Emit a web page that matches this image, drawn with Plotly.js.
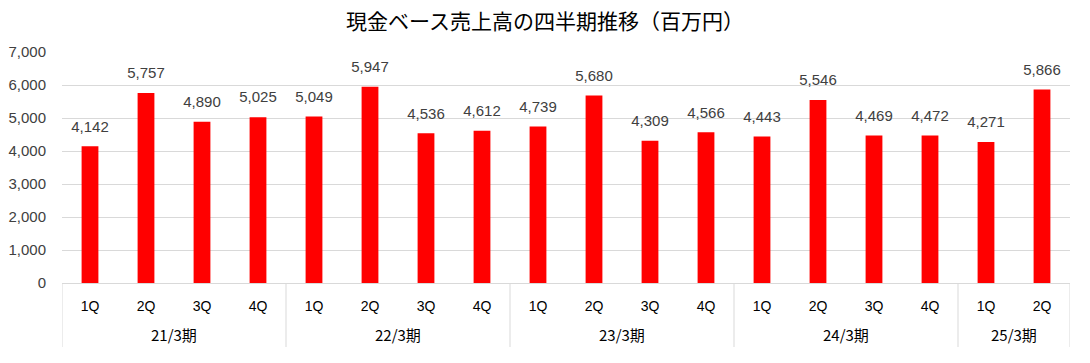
<!DOCTYPE html>
<html><head><meta charset="utf-8">
<script src="https://cdn.plot.ly/plotly-3.0.1.min.js"></script>
<style>html,body{margin:0;padding:0;background:#fff}#chart{width:1090px;height:363px}</style>
</head><body><div id="chart"></div>
<script>
const years = ["21/3期","21/3期","21/3期","21/3期","22/3期","22/3期","22/3期","22/3期","23/3期","23/3期","23/3期","23/3期","24/3期","24/3期","24/3期","24/3期","25/3期","25/3期"];
const quarters = ["1Q","2Q","3Q","4Q","1Q","2Q","3Q","4Q","1Q","2Q","3Q","4Q","1Q","2Q","3Q","4Q","1Q","2Q"];
const sales = [4142,5757,4890,5025,5049,5947,4536,4612,4739,5680,4309,4566,4443,5546,4469,4472,4271,5866];
const yTicks = [0,1000,2000,3000,4000,5000,6000,7000];

const FONT = "'Liberation Sans', Arial, 'Noto Sans CJK JP', sans-serif";
const idx = sales.map((_, i) => i);

// group boundaries derived from the years array
const groups = [];
years.forEach((y, i) => {
  if (!groups.length || groups[groups.length-1].name !== y) groups.push({name:y, start:i, end:i});
  else groups[groups.length-1].end = i;
});
const shapes = [];
const annotations = [];
groups.forEach((g, k) => {
  if (k === 0) shapes.push({type:"line", xref:"x", yref:"paper", x0:g.start-0.5, x1:g.start-0.5, y0:0, y1:-0.277, line:{color:"#d9d9d9", width:1}});
  shapes.push({type:"line", xref:"x", yref:"paper", x0:g.end+0.5, x1:g.end+0.5, y0:0, y1:-0.277, line:{color:"#d9d9d9", width:1}});
  annotations.push({xref:"x", yref:"paper", x:(g.start+g.end)/2, y:-0.225, yanchor:"middle", showarrow:false,
    text:g.name, font:{family:"'Noto Sans CJK JP', sans-serif", size:15, color:"#000"}});
});

const traces = [
  {type:"bar", x:idx, y:sales, marker:{color:"#ff0000"}, hoverinfo:"y"},
  {type:"scatter", mode:"markers+text", x:idx, y:sales,
   text:sales.map(v=>v.toLocaleString("en-US")), textposition:"top center",
   marker:{size:16, opacity:0}, cliponaxis:false,
   textfont:{family:FONT, size:15, color:"#404040"}, hoverinfo:"skip", showlegend:false}
];
const layout = {
  width:1090, height:363,
  margin:{l:62, r:20, t:52, b:80},
  paper_bgcolor:"#fff", plot_bgcolor:"#fff",
  showlegend:false,
  bargap:0.7,
  title:{text:"現金ベース売上高の四半期推移（百万円）", x:0.5, xanchor:"center", y:0.94, yanchor:"middle",
         font:{family:"'Noto Sans CJK JP', sans-serif", size:21, color:"#000"}},
  font:{family:FONT, size:13, color:"#404040"},
  xaxis:{range:[-0.5, sales.length-0.5], tickvals:idx, ticktext:quarters,
         showline:true, linecolor:"#d9d9d9", linewidth:1, ticks:"", showgrid:false, zeroline:false,
         ticklabelstandoff:10,
         tickfont:{family:"'Liberation Sans', 'Noto Sans CJK JP', sans-serif", size:14, color:"#000"}},
  yaxis:{range:[0,7000], tickvals:yTicks, ticktext:yTicks.map(v=>v.toLocaleString("en-US")),
         showgrid:true, gridcolor:"#d9d9d9", zeroline:false, showline:false, ticks:"",
         ticklabelstandoff:15,
         tickfont:{family:FONT, size:15, color:"#404040"}},
  shapes:shapes,
  annotations:annotations
};
Plotly.newPlot("chart", traces, layout, {displayModeBar:false, staticPlot:true});
</script></body></html>
